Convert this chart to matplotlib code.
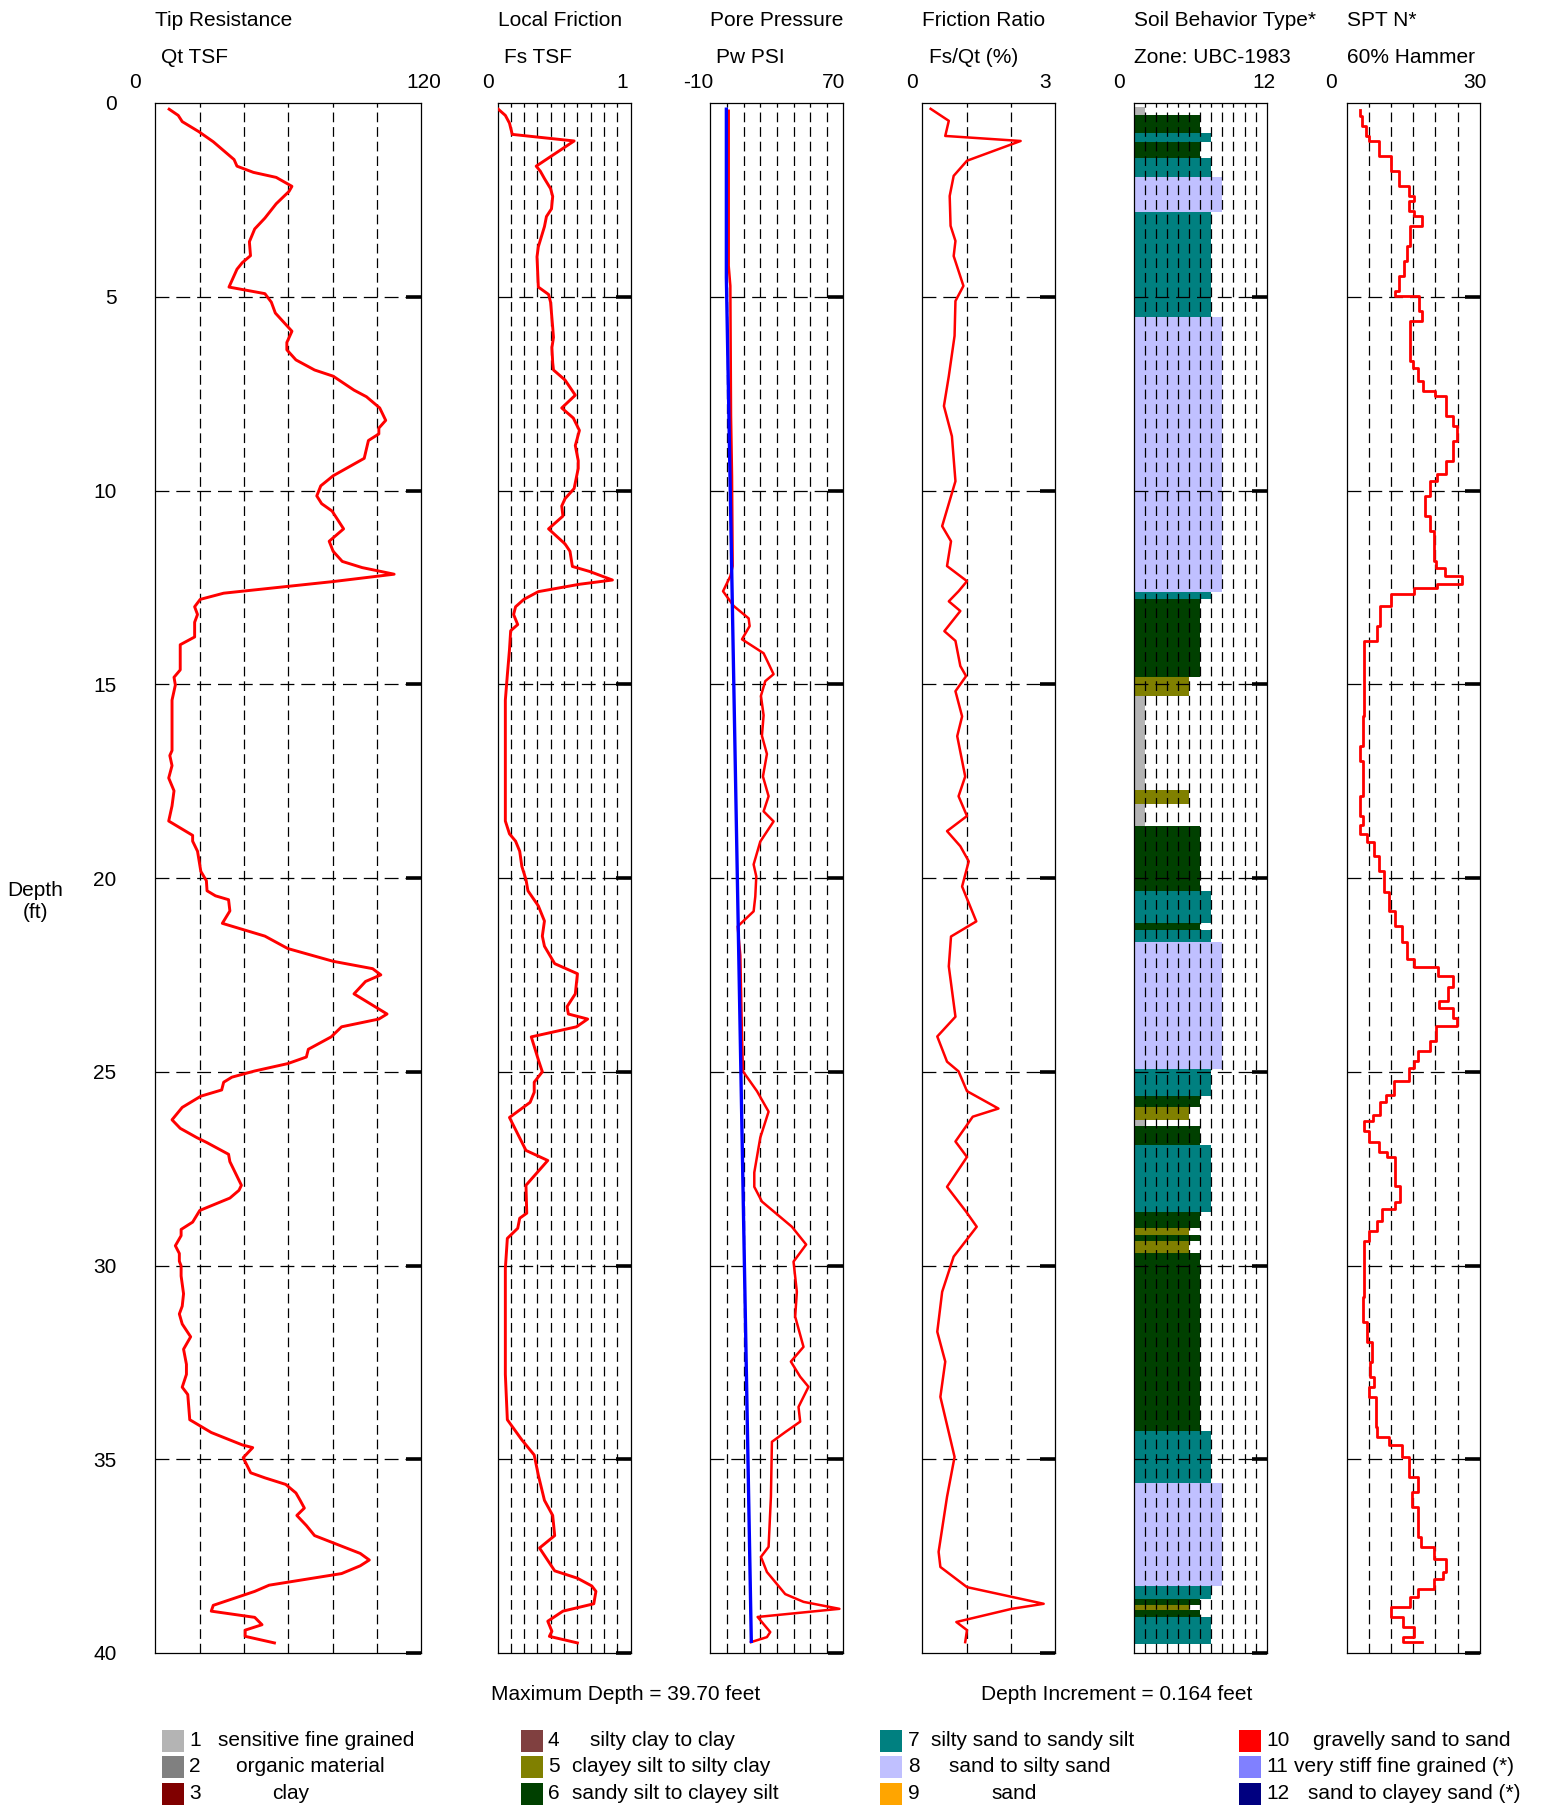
import matplotlib
matplotlib.use("Agg")
import matplotlib.pyplot as plt
from matplotlib.patches import Rectangle

plt.rcParams["font.family"] = ["Liberation Sans", "DejaVu Sans"]
plt.rcParams["lines.scale_dashes"] = False

W, H = 1545, 1805

qt_depth = [0.16, 0.32, 0.48, 0.74, 1.0, 1.46, 1.63, 1.79, 1.92, 2.15, 2.28, 2.6, 2.97, 3.25, 3.58, 3.94,
            4.12, 4.29, 4.75, 4.92, 5.14, 5.42, 5.89, 6.18, 6.37, 6.63, 6.89, 7.05, 7.41, 7.58, 7.87, 8.19,
            8.39, 8.54, 8.71, 9.17, 9.62, 9.88, 10.14, 10.34, 10.53, 10.99, 11.31, 11.57, 11.83, 11.99, 12.16,
            12.35, 12.65, 12.81, 13.0, 13.2, 13.4, 13.78, 13.98, 14.63, 14.82, 15.02, 15.41, 16.71, 16.84,
            17.1, 17.42, 17.75, 18.14, 18.53, 18.9, 19.05, 19.31, 19.83, 20.07, 20.33, 20.46, 20.56, 20.85,
            21.17, 21.5, 21.82, 22.15, 22.34, 22.5, 22.67, 22.99, 23.51, 23.64, 23.84, 24.1, 24.42, 24.62,
            24.79, 24.98, 25.14, 25.27, 25.47, 25.63, 25.92, 26.24, 26.46, 26.7, 26.83, 27.13, 27.32, 27.93,
            28.06, 28.26, 28.58, 28.88, 29.07, 29.23, 29.49, 29.69, 29.89, 30.01, 30.27, 30.73, 31.05, 31.25,
            31.51, 31.84, 32.16, 32.55, 32.81, 33.14, 33.33, 33.98, 34.31, 34.63, 34.7, 34.96, 35.35, 35.48,
            35.65, 35.87, 36.06, 36.26, 36.45, 36.71, 36.97, 37.43, 37.6, 37.75, 37.95, 38.25, 38.41, 38.77,
            38.92, 39.08, 39.27, 39.41, 39.57, 39.74]
qt_tsf = [6.2, 10.3, 12.1, 19.6, 26.1, 35.5, 36.8, 44.2, 54.5, 61.6, 60.3, 54.5, 49.4, 44.8, 42.4, 42.9,
          39.2, 36.8, 33.2, 49.4, 52.3, 54.1, 61.6, 59.3, 59.3, 63.4, 71.8, 80.2, 89.6, 95.2, 101.2, 103.9,
          100.8, 100.8, 96.1, 94.2, 80.2, 74.6, 72.8, 75.0, 79.7, 84.9, 78.4, 80.2, 84.3, 93.3, 107.7,
          80.2, 30.8, 20.2, 17.7, 19.0, 17.7, 17.7, 11.2, 11.2, 8.4, 9.0, 7.5, 7.5, 6.5,
          7.5, 6.0, 8.4, 7.5, 6.0, 16.8, 16.8, 19.0, 20.5, 23.0, 23.3, 27.1, 33.0, 33.6,
          30.2, 49.4, 59.7, 80.2, 98.0, 101.7, 94.8, 89.6, 104.5, 100.8, 84.0, 79.3, 69.0, 68.1,
          59.7, 44.8, 34.5, 30.8, 29.9, 20.5, 12.1, 7.5, 11.2, 18.7, 23.3, 33.0, 33.6, 38.8,
          37.7, 33.6, 20.0, 16.8, 11.6, 11.6, 9.0, 10.8, 10.8, 11.6, 11.6, 12.7, 12.1, 10.8,
          12.1, 15.9, 12.7, 14.0, 14.0, 12.1, 14.6, 15.5, 25.2, 39.2, 43.9, 39.6, 43.0, 49.4,
          58.8, 63.4, 65.3, 67.2, 63.8, 68.1, 71.8, 92.4, 96.5, 92.4, 84.0, 51.3, 44.8, 26.1,
          25.2, 44.8, 48.1, 40.5, 40.5, 53.7]

fs_depth = [0.16, 0.32, 0.52, 0.81, 0.98, 1.63, 1.76, 1.95, 2.21, 2.41, 2.73, 2.93, 3.19, 3.71, 3.97, 4.75,
            4.94, 5.14, 5.79, 6.05, 6.31, 6.7, 6.89, 7.15, 7.54, 7.87, 8.13, 8.45, 8.84, 9.23, 9.43, 9.95,
            10.21, 10.4, 10.66, 10.99, 11.38, 11.57, 11.96, 12.09, 12.31, 12.42, 12.61, 12.81, 13.0, 13.2,
            13.46, 13.62, 14.11, 14.76, 15.41, 16.71, 18.01, 18.53, 18.86, 19.05, 19.31, 19.7, 20.04, 20.33,
            20.72, 21.11, 21.5, 21.76, 22.21, 22.47, 22.99, 23.32, 23.51, 23.64, 23.84, 24.1, 24.69, 25.0,
            25.27, 25.53, 25.79, 26.18, 27.03, 27.29, 27.93, 28.65, 28.78, 29.04, 29.3, 30.08, 31.51, 32.81,
            33.98, 34.5, 34.89, 35.41, 36.06, 36.45, 36.97, 37.29, 37.88, 38.07, 38.27, 38.41, 38.73, 38.92,
            39.18, 39.44, 39.57, 39.74]
fs_tsf = [0.006, 0.059, 0.09, 0.111, 0.576, 0.291, 0.322, 0.353, 0.399, 0.415, 0.406, 0.368, 0.353, 0.307, 0.297, 0.307,
          0.384, 0.399, 0.415, 0.421, 0.409, 0.415, 0.421, 0.508, 0.585, 0.483, 0.570, 0.616, 0.585, 0.607, 0.607, 0.576,
          0.508, 0.483, 0.492, 0.384, 0.508, 0.545, 0.563, 0.693, 0.864, 0.616, 0.307, 0.198, 0.136, 0.121,
          0.152, 0.099, 0.09, 0.074, 0.059, 0.059, 0.059, 0.059, 0.09, 0.136, 0.167, 0.183, 0.214, 0.229,
          0.307, 0.353, 0.337, 0.353, 0.430, 0.601, 0.585, 0.523, 0.533, 0.678, 0.594, 0.254, 0.307, 0.337,
          0.276, 0.276, 0.245, 0.09, 0.214, 0.378, 0.214, 0.220, 0.167, 0.152, 0.074, 0.059, 0.059, 0.059,
          0.074, 0.183, 0.276, 0.307, 0.353, 0.415, 0.430, 0.316, 0.430, 0.601, 0.709, 0.740, 0.724, 0.492,
          0.378, 0.409, 0.390, 0.601]

pw_depth = [0.2, 4.2, 4.72, 8.08, 9.63, 11.95, 12.21, 12.6, 12.98, 13.3, 13.5, 13.84, 14.2, 14.74, 14.92,
            15.3, 15.8, 16.33, 16.8, 17.38, 17.89, 18.28, 18.54, 19.06, 19.65, 19.96, 20.48, 20.86, 21.25,
            22.0, 24.09, 24.99, 25.5, 26.03, 26.7, 27.6, 27.97, 28.35, 29.0, 29.46, 29.9, 30.68, 31.32, 32.1,
            32.48, 32.87, 33.13, 33.65, 34.03, 34.3, 34.55, 35.97, 37.26, 37.52, 37.91, 38.48, 38.68, 38.86,
            39.07, 39.46, 39.59, 39.72]
pw_psi = [1.0, 1.0, 2.0, 2.4, 3.0, 3.4, 2.0, -2.4, 4.0, 13.0, 13.6, 9.0, 22.0, 28.0, 23.0,
          20.4, 22.0, 21.0, 24.0, 21.6, 25.0, 22.0, 28.0, 20.0, 16.0, 17.6, 17.0, 16.0, 6.4,
          8.0, 9.0, 9.6, 18.0, 25.0, 20.0, 16.4, 16.4, 21.0, 39.0, 47.6, 40.0, 42.0, 41.0, 46.0,
          38.4, 44.0, 49.0, 43.0, 44.0, 35.0, 27.0, 26.4, 25.0, 20.4, 24.0, 35.0, 46.0, 67.6,
          18.4, 26.0, 24.0, 14.4]

hydro_depth = [0.16, 4.5, 39.7]
hydro_psi = [-0.4, -0.4, 14.6]

rf_depth = [0.15, 0.46, 0.85, 0.98, 1.49, 1.88, 2.4, 3.17, 3.56, 3.95, 4.72, 5.11, 6.01, 7.05, 7.82, 8.6,
            9.76, 10.92, 11.31, 11.95, 12.34, 12.6, 12.86, 13.11, 13.63, 13.88, 14.53, 14.79, 15.18, 15.83,
            16.34, 17.38, 17.89, 18.4, 18.79, 19.18, 19.57, 20.22, 21.12, 21.51, 22.28, 23.58, 24.09, 24.74,
            24.99, 25.5, 25.95, 26.16, 26.8, 27.2, 27.97, 28.61, 29.0, 29.77, 30.68, 31.71, 32.48, 33.39,
            34.94, 35.97, 37.39, 37.78, 38.3, 38.73, 38.86, 39.2, 39.41, 39.72]
rf_pct = [0.19, 0.60, 0.52, 2.22, 1.01, 0.71, 0.62, 0.64, 0.75, 0.71, 0.93, 0.75, 0.73, 0.60, 0.49, 0.67,
          0.75, 0.45, 0.65, 0.56, 1.01, 0.82, 0.60, 0.86, 0.50, 0.75, 0.86, 0.99, 0.75, 0.90,
          0.79, 0.97, 0.82, 1.01, 0.56, 0.86, 1.05, 0.90, 1.22, 0.65, 0.60, 0.75, 0.34, 0.56,
          0.82, 1.01, 1.72, 1.14, 0.75, 1.01, 0.56, 0.99, 1.23, 0.71, 0.45, 0.34, 0.52, 0.41,
          0.73, 0.56, 0.37, 0.41, 1.01, 2.74, 2.02, 0.77, 1.01, 0.97]

sbt_top = [0.1, 0.30, 0.78, 1.0, 1.43, 1.92, 2.80, 5.53, 12.61, 12.81, 14.82, 15.31, 17.72, 18.08, 18.66,
           20.33, 21.15, 21.33, 21.65, 24.94, 25.62, 25.92, 26.24, 26.40, 26.9, 28.61, 29.04, 29.2, 29.37,
           29.69, 34.28, 35.6, 38.27, 38.6, 38.76, 38.9, 39.08]
sbt_zone = [1, 6, 7, 6, 7, 8, 7, 8, 7, 6, 5, 1, 5, 1, 6, 7, 6, 7, 8, 7, 6, 5, 1, 6, 7, 6, 5, 6, 5, 6,
            7, 8, 7, 6, 5, 6, 7]
sbt_end = 39.77

spt_depth = [0.18, 0.33, 0.59, 0.85, 0.98, 1.36, 1.75, 2.14, 2.4, 2.53, 2.79, 2.91, 3.17, 3.69, 4.08, 4.46,
             4.85, 4.98, 5.37, 5.62, 6.65, 6.84, 7.17, 7.43, 7.56, 8.08, 8.34, 8.72, 9.24, 9.57, 9.76,
             10.14, 10.66, 11.05, 11.82, 12.0, 12.21, 12.42, 12.52, 12.68, 12.99, 13.5, 13.89, 15.83, 16.6,
             16.99, 17.89, 18.41, 18.62, 18.87, 19.06, 19.44, 19.83, 20.35, 20.86, 21.25, 21.64, 22.08,
             22.29, 22.54, 22.8, 23.18, 23.36, 23.62, 23.83, 24.21, 24.47, 24.73, 24.91, 25.25, 25.59,
             25.77, 26.11, 26.28, 26.54, 26.8, 27.06, 27.19, 27.96, 28.35, 28.53, 28.86, 29.12, 29.38,
             30.81, 31.46, 31.97, 32.48, 32.87, 33.13, 33.39, 34.16, 34.42, 34.63, 34.94, 35.45, 35.84,
             36.23, 37.0, 37.26, 37.57, 37.91, 38.09, 38.35, 38.55, 38.81, 39.07, 39.33, 39.59, 39.72]
spt_n = [3.0, 3.5, 4.3, 5.1, 7.2, 10.0, 11.9, 14.1, 15.1, 14.0, 15.1, 17.0, 14.3, 13.7, 13.0, 11.9,
         10.8, 16.2, 17.0, 14.3, 14.9, 16.0, 17.3, 19.9, 22.5, 24.0, 24.9, 24.0, 22.5, 20.3, 18.8,
         17.7, 18.8, 19.7, 20.1, 22.2, 25.9, 20.3, 15.1, 9.9, 7.6, 6.9, 3.9, 3.7, 3.0,
         3.7, 3.0, 3.7, 3.0, 4.6, 6.1, 7.2, 8.4, 9.5, 11.0, 12.5, 13.7, 15.1,
         20.7, 24.0, 22.9, 20.9, 24.0, 24.8, 20.1, 18.8, 16.0, 15.1, 14.0, 10.6, 8.8,
         7.6, 6.0, 3.9, 5.0, 7.2, 9.1, 10.8, 12.1, 11.0, 8.0, 6.9, 5.0, 3.9,
         3.7, 4.6, 5.7, 5.2, 6.1, 5.0, 6.5, 6.9, 9.5, 12.5, 14.0, 16.0, 14.7,
         16.0, 16.7, 19.7, 22.5, 21.8, 19.6, 16.0, 14.3, 9.9, 12.7, 15.1, 12.7, 17.0]

titles = ["Tip Resistance", "Local Friction", "Pore Pressure", "Friction Ratio", "Soil Behavior Type*", "SPT N*"]
subtitles = ["Qt TSF", "Fs TSF", "Pw PSI", "Fs/Qt (%)", "Zone: UBC-1983", "60% Hammer"]
x_ranges = [(0, 120), (0, 1), (-10, 70), (0, 3), (0, 12), (0, 30)]
range_labels = [("0", "120"), ("0", "1"), ("-10", "70"), ("0", "3"), ("0", "12"), ("0", "30")]
depth_ticks = [0, 5, 10, 15, 20, 25, 30, 35, 40]

sbt_numbers = ["1", "2", "3", "4", "5", "6", "7", "8", "9", "10", "11", "12"]
sbt_names = ["sensitive fine grained", "organic material", "clay",
             "silty clay to clay", "clayey silt to silty clay", "sandy silt to clayey silt",
             "silty sand to sandy silt", "sand to silty sand", "sand",
             "gravelly sand to sand", "very stiff fine grained (*)", "sand to clayey sand (*)"]
sbt_colors = ["#B4B4B4", "#808080", "#800000", "#804040", "#808000", "#004000",
              "#008080", "#C0C0FF", "#FFA500", "#FF0000", "#8080FF", "#000080"]

# ---- layout (pixels in the 1545x1805 canvas) ----
lefts = [155.4, 497.5, 710.4, 922.2, 1133.7, 1346.7]
widths = [266.0, 133.0, 133.0, 133.0, 133.0, 133.0]
TOP, BOT = 103.0, 1653.0
title_x = [155.4, 497.5, 710.4, 922.2, 1134.0, 1347.0]
sub_x = [161.0, 504.0, 716.0, 929.0, 1134.0, 1347.0]
lo_x = [134.7, 488.0, 698.6, 912.0, 1119.0, 1331.0]
hi_x = [423.5, 621.8, 833.6, 1045.0, 1264.0, 1475.0]
grid_steps = [20, 0.1, 10, 1, 1, 5]
FS = 15


def fx(x):
    return x / W


def fy(y):
    return 1 - y / H


fig = plt.figure(figsize=(W / 100, H / 100), dpi=100)

axes = []
for i in range(6):
    ax = fig.add_axes([fx(lefts[i]), fy(BOT), widths[i] / W, (BOT - TOP) / H])
    lo, hi = x_ranges[i]
    ax.set_xlim(lo, hi)
    ax.set_ylim(40, 0)
    ax.set_xticks([])
    ax.set_yticks([])
    for s in ax.spines.values():
        s.set_linewidth(0.9)
        s.set_color("black")
    # vertical dashed grid
    step = grid_steps[i]
    n = int(round((hi - lo) / step))
    for k in range(1, n):
        ax.axvline(lo + k * step, color="black", lw=0.9, ls=(0, (7, 3.5)), zorder=2)
    # horizontal dashed grid every 5 ft
    for d in depth_ticks[1:-1]:
        ax.axhline(d, color="black", lw=0.9, ls=(0, (10, 5)), zorder=2)
    # thick depth marks on right edge
    for d in depth_ticks[1:]:
        ax.axhline(d, xmin=1 - 15 / widths[i], xmax=1, color="black", lw=2.6,
                   solid_capstyle="butt", zorder=5, clip_on=False)
    fig.text(fx(title_x[i]), fy(20.8), titles[i], fontsize=FS, ha="left", va="center")
    fig.text(fx(sub_x[i]), fy(57.7), subtitles[i], fontsize=FS, ha="left", va="center")
    fig.text(fx(lo_x[i]), fy(82.8), range_labels[i][0], fontsize=FS, ha="center", va="center")
    fig.text(fx(hi_x[i]), fy(82.8), range_labels[i][1], fontsize=FS, ha="center", va="center")
    axes.append(ax)

ax1, ax2, ax3, ax4, ax5, ax6 = axes

ax1.set_yticks(depth_ticks)
ax1.set_yticklabels([str(d) for d in depth_ticks])
ax1.tick_params(axis="y", length=0, pad=28, labelsize=FS)
fig.text(fx(35), fy(901), "Depth\n(ft)", fontsize=FS, ha="center", va="center", linespacing=1.2)

ax1.plot(qt_tsf, qt_depth, color="#FF0000", lw=2.1, zorder=3)
ax2.plot(fs_tsf, fs_depth, color="#FF0000", lw=2.1, zorder=3)
ax3.plot(pw_psi, pw_depth, color="#FF0000", lw=1.8, zorder=3)
ax3.plot(hydro_psi, hydro_depth, color="#0000FF", lw=2.4, zorder=4)
ax4.plot(rf_pct, rf_depth, color="#FF0000", lw=1.8, zorder=3)
ax6.plot(spt_n, spt_depth, color="#FF0000", lw=2.0, drawstyle="steps-pre", zorder=3)

sbt_bottom = sbt_top[1:] + [sbt_end]
ax5.barh(sbt_top, sbt_zone, height=[b - t for t, b in zip(sbt_top, sbt_bottom)], left=0,
         align="edge", color=[sbt_colors[z - 1] for z in sbt_zone], linewidth=0, zorder=1)

fig.text(fx(626), fy(1694.5), "Maximum Depth = 39.70 feet", fontsize=FS, ha="center", va="center")
fig.text(fx(1117), fy(1694.5), "Depth Increment = 0.164 feet", fontsize=FS, ha="center", va="center")

# legend of soil zones
sw_x = [161.6, 520.5, 880.0, 1238.7]
num_x = [189.0, 548.0, 907.7, 1266.7]
name_x = [218, 236, 272, 590, 572, 572, 931, 949, 991, 1313, 1294, 1308]
row_y = [1740.5, 1767.0, 1793.5]
for i in range(12):
    col, row = divmod(i, 3)
    y = row_y[row]
    fig.add_artist(Rectangle((fx(sw_x[col]), fy(y + 11)), 22 / W, 22 / H,
                             transform=fig.transFigure, facecolor=sbt_colors[i], edgecolor="none"))
    fig.text(fx(num_x[col]), fy(y), sbt_numbers[i], fontsize=FS, ha="left", va="center")
    fig.text(fx(name_x[i]), fy(y), sbt_names[i], fontsize=FS, ha="left", va="center")

fig.savefig("out.png", dpi=100)
